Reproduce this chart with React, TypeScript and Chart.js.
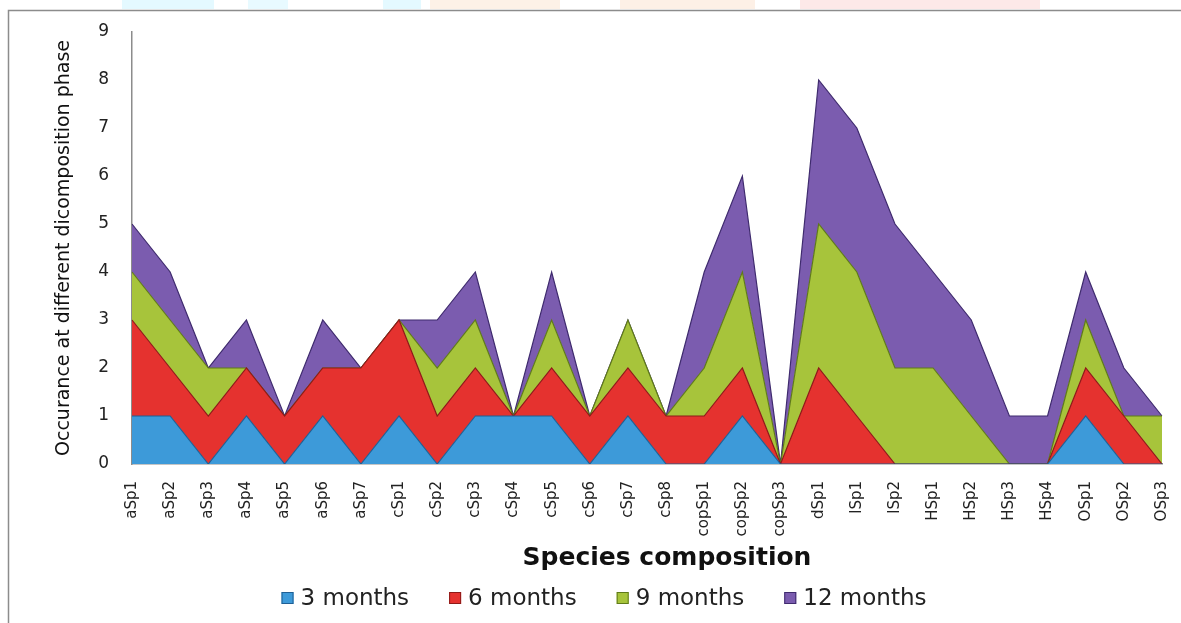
import React, { useEffect, useRef } from "react";
import { Chart, registerables } from "chart.js";

Chart.register(...registerables);

const categories = [
  "aSp1", "aSp2", "aSp3", "aSp4", "aSp5", "aSp6", "aSp7",
  "cSp1", "cSp2", "cSp3", "cSp4", "cSp5", "cSp6", "cSp7", "cSp8",
  "copSp1", "copSp2", "copSp3",
  "dSp1", "lSp1", "lSp2",
  "HSp1", "HSp2", "HSp3", "HSp4",
  "OSp1", "OSp2", "OSp3",
];

const months3 = [1, 1, 0, 1, 0, 1, 0, 1, 0, 1, 1, 1, 0, 1, 0, 0, 1, 0, 0, 0, 0, 0, 0, 0, 0, 1, 0, 0];
const months6 = [2, 1, 1, 1, 1, 1, 2, 2, 1, 1, 0, 1, 1, 1, 1, 1, 1, 0, 2, 1, 0, 0, 0, 0, 0, 1, 1, 0];
const months9 = [1, 1, 1, 0, 0, 0, 0, 0, 1, 1, 0, 1, 0, 1, 0, 1, 2, 0, 3, 3, 2, 2, 1, 0, 0, 1, 0, 1];
const months12 = [1, 1, 0, 1, 0, 1, 0, 0, 1, 1, 0, 1, 0, 0, 0, 2, 2, 0, 3, 3, 3, 2, 2, 1, 1, 1, 1, 0];

const seriesNames = ["3 months", "6 months", "9 months", "12 months"];
const yTicks = [0, 1, 2, 3, 4, 5, 6, 7, 8, 9];
const xTitle = "Species composition";
const yTitle = "Occurance at different dicomposition phase";

const FONT = "'DejaVu Sans', Verdana, sans-serif";

const framePlugin = {
  id: "frame",
  beforeDraw(chart: any) {
    const ctx = chart.ctx;
    ctx.save();
    ctx.fillStyle = "#ffffff";
    ctx.fillRect(0, 0, chart.width, chart.height);
    // faint page strips above the frame
    const strips: [number, number, string][] = [
      [122, 92, "#e4f9ff"],
      [248, 40, "#e8faff"],
      [383, 38, "#e4f9ff"],
      [430, 130, "#fdf1e7"],
      [620, 135, "#fdf0e6"],
      [800, 240, "#fde9e8"],
    ];
    strips.forEach(([x, w, c]) => {
      ctx.fillStyle = c;
      ctx.fillRect(x, 0, w, 9);
    });
    ctx.strokeStyle = "#8c8c8c";
    ctx.lineWidth = 1.5;
    ctx.strokeRect(8.5, 10.5, chart.width + 10, chart.height + 10);
    ctx.restore();
  },
};

// Axis title and legend drawn as real text on the canvas, placed like the reference.
const textPlugin = {
  id: "customText",
  afterDraw(chart: any) {
    const ctx = chart.ctx;
    const ds = chart.data.datasets;
    ctx.save();
    // x-axis title
    ctx.font = `bold 25px ${FONT}`;
    ctx.fillStyle = "#111";
    ctx.textAlign = "center";
    ctx.textBaseline = "middle";
    ctx.fillText(xTitle, 667, 558);

    // legend
    const fontSize = 23;
    const box = 12;
    const gap = 7;
    const spacing = 40;
    const centerX = 604;
    const y = 598;
    ctx.font = `${fontSize}px ${FONT}`;
    ctx.textAlign = "left";
    const widths = ds.map((d: any) => box + gap + ctx.measureText(d.label).width);
    const total = widths.reduce((a: number, b: number) => a + b, 0) + spacing * (ds.length - 1);
    let x = centerX - total / 2;
    ds.forEach((d: any, i: number) => {
      ctx.fillStyle = d.backgroundColor;
      ctx.fillRect(x, y - box / 2, box, box);
      ctx.strokeStyle = d.borderColor;
      ctx.lineWidth = 1;
      ctx.strokeRect(x + 0.5, y - box / 2 + 0.5, box - 1, box - 1);
      ctx.fillStyle = "#222";
      ctx.fillText(d.label, x + box + gap, y + 1);
      x += widths[i] + spacing;
    });
    ctx.restore();
  },
};

export default function App() {
  const ref = useRef<HTMLCanvasElement | null>(null);

  useEffect(() => {
    if (!ref.current) return;
    const mk = (label: string, data: number[], bg: string, border: string, fill: any) => ({
      label,
      data,
      backgroundColor: bg,
      borderColor: border,
      borderWidth: 1.2,
      pointRadius: 0,
      pointHoverRadius: 0,
      tension: 0,
      fill,
    });
    const chart = new Chart(ref.current, {
      type: "line",
      data: {
        labels: categories,
        datasets: [
          mk(seriesNames[0], months3, "#3d9ad9", "#1f5f94", "origin"),
          mk(seriesNames[1], months6, "#e5322f", "#8e1a18", "-1"),
          mk(seriesNames[2], months9, "#a7c43b", "#5f7a1a", "-1"),
          mk(seriesNames[3], months12, "#7b5caf", "#3f2b6e", "-1"),
        ],
      },
      options: {
        animation: false,
        responsive: false,
        events: [],
        layout: { padding: { left: 50, right: 19, top: 32, bottom: 57 } },
        plugins: {
          legend: { display: false },
          tooltip: { enabled: false },
        },
        scales: {
          x: {
            offset: false,
            grid: { display: false, drawTicks: false },
            border: { display: true, color: "#8c8c8c", width: 1.5 },
            ticks: {
              autoSkip: false,
              maxRotation: 90,
              minRotation: 90,
              padding: 17,
              color: "#222",
              font: { family: FONT, size: 15 },
            },
            title: { display: false },
            afterFit: (s: any) => {
              s.height = 102;
              s.paddingLeft = 0;
              s.paddingRight = 0;
            },
          },
          y: {
            stacked: true,
            min: 0,
            max: 9,
            afterBuildTicks: (s: any) => {
              s.ticks = yTicks.map((v) => ({ value: v }));
            },
            grid: { display: false, drawOnChartArea: false, drawTicks: true, tickLength: 7, color: "#8c8c8c" },
            border: { display: true, color: "#8c8c8c", width: 1.5 },
            ticks: {
              padding: 16,
              color: "#222",
              font: { family: FONT, size: 17 },
            },
            title: {
              display: true,
              text: yTitle,
              color: "#111",
              font: { family: FONT, size: 19 },
              padding: { top: 3, bottom: 0 },
            },
            afterFit: (s: any) => {
              s.width = 82;
            },
          },
        },
      },
      plugins: [framePlugin, textPlugin],
    } as any);
    return () => chart.destroy();
  }, []);

  return (
    <div style={{ position: "absolute", left: 0, top: 0, width: 1181, height: 623 }}>
      <canvas ref={ref} width={1181} height={623} />
    </div>
  );
}
